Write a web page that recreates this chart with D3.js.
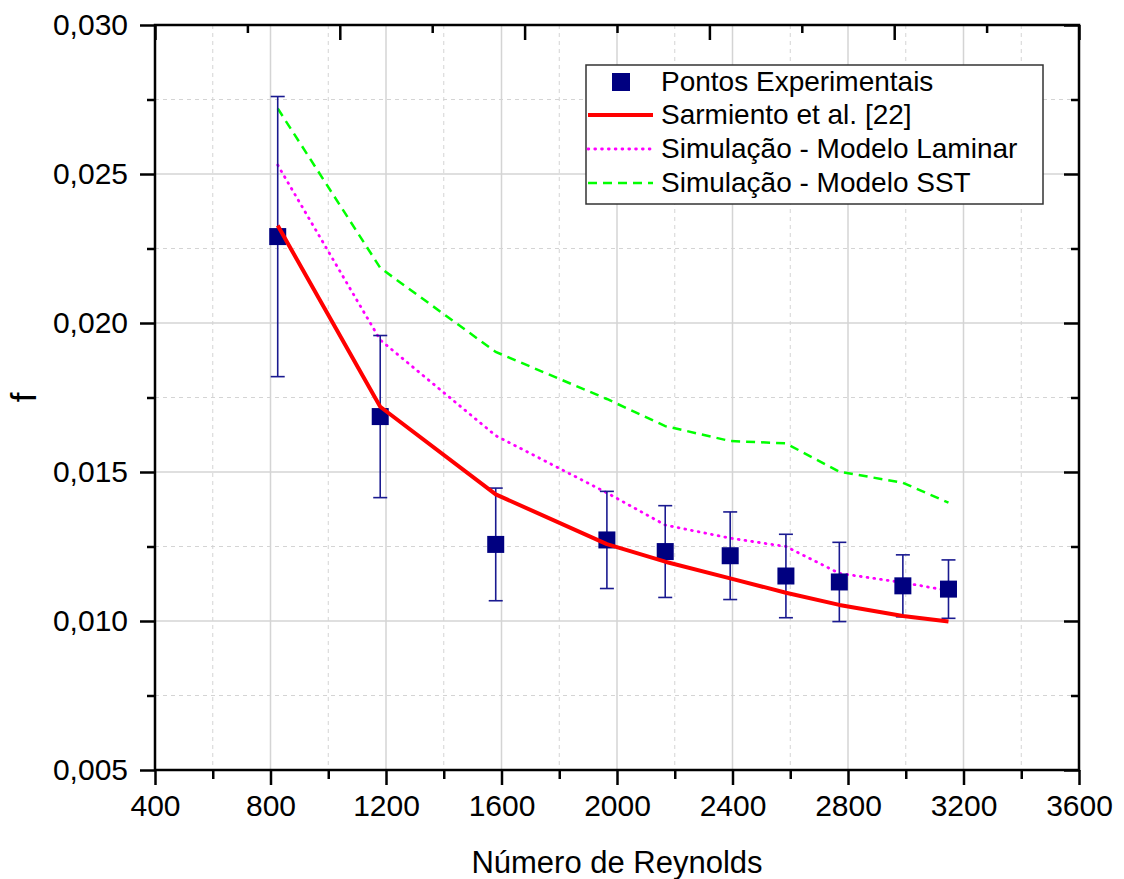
<!DOCTYPE html>
<html>
<head>
<meta charset="utf-8">
<script src="https://cdn.jsdelivr.net/npm/d3@7"></script>
<style>
  html, body { margin: 0; padding: 0; background: #fff; }
  svg { display: block; font-family: "Liberation Sans", Arial, sans-serif; }
</style>
</head>
<body>
<svg id="chart" width="1124" height="879"></svg>
<script>
// Reynolds numbers of the measured / simulated cases
const reynolds = [825, 1180, 1580, 1965, 2167, 2392, 2585, 2770, 2990, 3148];
// Experimental friction factor and its uncertainty
const fExperimental = [0.0229, 0.01686, 0.01257, 0.01272, 0.01233, 0.01219, 0.01151, 0.01131, 0.01118, 0.01107];
const fError = [0.0047, 0.00272, 0.00189, 0.00163, 0.00154, 0.00147, 0.0014, 0.00133, 0.00104, 0.00098];
// Correlation and simulation results
const fSarmiento = [0.02327, 0.01719, 0.01425, 0.01258, 0.01199, 0.01143, 0.01095, 0.01054, 0.01017, 0.00998];
const fLaminar = [0.0253, 0.01943, 0.01622, 0.01430, 0.01322, 0.01278, 0.0125, 0.0116, 0.01129, 0.01102];
const fSST = [0.0272, 0.02185, 0.01903, 0.01745, 0.01654, 0.01604, 0.01596, 0.01501, 0.01464, 0.01397];

const xMajorTicks = [400, 800, 1200, 1600, 2000, 2400, 2800, 3200, 3600];
const xMinorTicks = [600, 1000, 1400, 1800, 2200, 2600, 3000, 3400];
const xTopMajorTicks = [400, 1040, 1680, 2320, 2960, 3600];
const xTopMinorTicks = [720, 1360, 2000, 2640, 3280];
const yMajorTicks = [0.005, 0.010, 0.015, 0.020, 0.025, 0.030];
const yMinorTicks = [0.0075, 0.0125, 0.0175, 0.0225, 0.0275];

const legendLabels = ["Pontos Experimentais", "Sarmiento et al. [22]", "Simulação - Modelo Laminar", "Simulação - Modelo SST"];

const svg = d3.select("#chart");
const margin = { left: 155, top: 25, right: 45, bottom: 109 };
const W = 1124 - margin.left - margin.right;
const H = 879 - margin.top - margin.bottom;

const x = d3.scaleLinear().domain([400, 3600]).range([0, W]);
const y = d3.scaleLinear().domain([0.005, 0.030]).range([H, 0]);

const g = svg.append("g").attr("transform", `translate(${margin.left},${margin.top})`);

const fmtY = v => d3.format(".3f")(v).replace(".", ",");

// grid
const grid = g.append("g").attr("class", "grid");
grid.selectAll(".vmin").data(xMinorTicks).join("line")
  .attr("x1", d => x(d)).attr("x2", d => x(d)).attr("y1", 0).attr("y2", H)
  .attr("stroke", "#d4d4d4").attr("stroke-width", 1).attr("stroke-dasharray", "4,4");
grid.selectAll(".hmin").data(yMinorTicks).join("line")
  .attr("y1", d => y(d)).attr("y2", d => y(d)).attr("x1", 0).attr("x2", W)
  .attr("stroke", "#d4d4d4").attr("stroke-width", 1).attr("stroke-dasharray", "4,4");
grid.selectAll(".vmaj").data(xMajorTicks.slice(1, -1)).join("line")
  .attr("x1", d => x(d)).attr("x2", d => x(d)).attr("y1", 0).attr("y2", H)
  .attr("stroke", "#d4d4d4").attr("stroke-width", 1.5);
grid.selectAll(".hmaj").data(yMajorTicks.slice(1, -1)).join("line")
  .attr("y1", d => y(d)).attr("y2", d => y(d)).attr("x1", 0).attr("x2", W)
  .attr("stroke", "#d4d4d4").attr("stroke-width", 1.5);

// axes
function styleAxis(sel) {
  sel.select(".domain").remove();
  sel.selectAll(".tick line").attr("stroke", "#000").attr("stroke-width", 2.5);
}
const tickFont = 30;

const bottom = g.append("g").attr("transform", `translate(0,${H})`)
  .call(d3.axisBottom(x).tickValues(xMajorTicks).tickSize(15).tickPadding(10).tickFormat(d3.format("d")));
styleAxis(bottom);
bottom.selectAll("text").attr("font-size", tickFont).attr("fill", "#000").attr("font-family", "Liberation Sans, Arial, sans-serif");
g.append("g").attr("transform", `translate(0,${H})`)
  .call(d3.axisBottom(x).tickValues(xMinorTicks).tickSize(9).tickFormat(""))
  .call(styleAxis);

g.append("g").call(d3.axisTop(x).tickValues(xTopMajorTicks).tickSize(-15).tickFormat("")).call(styleAxis);
g.append("g").call(d3.axisTop(x).tickValues(xTopMinorTicks).tickSize(-8).tickFormat("")).call(styleAxis);

const left = g.append("g")
  .call(d3.axisLeft(y).tickValues(yMajorTicks).tickSize(15).tickPadding(12).tickFormat(fmtY));
styleAxis(left);
left.selectAll("text").attr("font-size", tickFont).attr("fill", "#000").attr("font-family", "Liberation Sans, Arial, sans-serif");
g.append("g").call(d3.axisLeft(y).tickValues(yMinorTicks).tickSize(8).tickFormat("")).call(styleAxis);

g.append("g").attr("transform", `translate(${W},0)`)
  .call(d3.axisRight(y).tickValues(yMajorTicks).tickSize(-15).tickFormat("")).call(styleAxis);
g.append("g").attr("transform", `translate(${W},0)`)
  .call(d3.axisRight(y).tickValues(yMinorTicks).tickSize(-8).tickFormat("")).call(styleAxis);

// frame
g.append("rect").attr("x", 0).attr("y", 0).attr("width", W).attr("height", H)
  .attr("fill", "none").attr("stroke", "#000").attr("stroke-width", 2.5);

// series lines
const idx = d3.range(reynolds.length);
const lineOf = arr => d3.line().x(i => x(reynolds[i])).y(i => y(arr[i]));

g.append("path").datum(idx).attr("d", lineOf(fSST))
  .attr("fill", "none").attr("stroke", "#00ff00").attr("stroke-width", 2.5).attr("stroke-dasharray", "9,6");
g.append("path").datum(idx).attr("d", lineOf(fLaminar))
  .attr("fill", "none").attr("stroke", "#ff00ff").attr("stroke-width", 2.8)
  .attr("stroke-linecap", "round").attr("stroke-dasharray", "0.8,6");

// error bars
const eb = g.append("g").attr("stroke", "#1a1a90").attr("stroke-width", 1.6);
eb.selectAll(".v").data(idx).join("line")
  .attr("x1", i => x(reynolds[i])).attr("x2", i => x(reynolds[i]))
  .attr("y1", i => y(fExperimental[i] + fError[i])).attr("y2", i => y(fExperimental[i] - fError[i]));
[1, -1].forEach(s => {
  eb.selectAll(".c" + s).data(idx).join("line")
    .attr("x1", i => x(reynolds[i]) - 7).attr("x2", i => x(reynolds[i]) + 7)
    .attr("y1", i => y(fExperimental[i] + s * fError[i])).attr("y2", i => y(fExperimental[i] + s * fError[i]));
});

// experimental points
const sq = 17;
g.selectAll(".pt").data(idx).join("rect")
  .attr("x", i => x(reynolds[i]) - sq / 2).attr("y", i => y(fExperimental[i]) - sq / 2)
  .attr("width", sq).attr("height", sq).attr("fill", "#000080");

// correlation drawn on top
g.append("path").datum(idx).attr("d", lineOf(fSarmiento))
  .attr("fill", "none").attr("stroke", "#ff0000").attr("stroke-width", 4).attr("stroke-linejoin", "round");

// axis titles
svg.append("text").attr("x", margin.left + W / 2).attr("y", 873)
  .attr("text-anchor", "middle").attr("font-size", 31).attr("fill", "#000").text("Número de Reynolds");
svg.append("text").attr("transform", `translate(36,${margin.top + H / 2}) rotate(-90)`)
  .attr("text-anchor", "middle").attr("font-size", 35).attr("fill", "#000").text("f");

// legend
const lg = svg.append("g").attr("transform", "translate(586,65)");
lg.append("rect").attr("x", 0).attr("y", 0).attr("width", 457).attr("height", 139)
  .attr("fill", "#fff").attr("stroke", "#333").attr("stroke-width", 1.5);
const rowY = [17, 50, 84, 118];
const styles = [
  null,
  { stroke: "#ff0000", width: 4, dash: null, cap: "butt" },
  { stroke: "#ff00ff", width: 2.8, dash: "0.8,6", cap: "round" },
  { stroke: "#00ff00", width: 2.5, dash: "9,6", cap: "butt" }
];
legendLabels.forEach((label, i) => {
  if (i === 0) {
    lg.append("rect").attr("x", 35 - 9).attr("y", rowY[i] - 9).attr("width", 18).attr("height", 18).attr("fill", "#000080");
  } else {
    lg.append("line").attr("x1", 2).attr("x2", 67).attr("y1", rowY[i]).attr("y2", rowY[i])
      .attr("stroke", styles[i].stroke).attr("stroke-width", styles[i].width)
      .attr("stroke-linecap", styles[i].cap).attr("stroke-dasharray", styles[i].dash);
  }
  lg.append("text").attr("x", 75).attr("y", rowY[i] + 9).attr("font-size", 28).attr("fill", "#000").text(label);
});
</script>
</body>
</html>
